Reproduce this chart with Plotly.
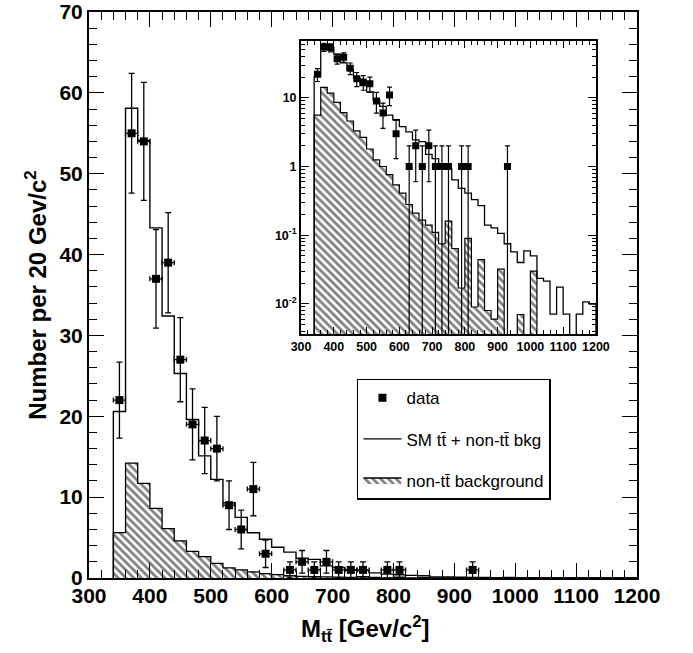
import plotly.graph_objects as go

# ---------------- data ----------------
bin_edges = list(range(340, 1201, 20))  # 43 bins of 20 GeV/c^2

sm_total = [20.6, 58.1, 54.1, 43.3, 32.4, 25.3, 19.6, 15.1, 12.2, 9.3,
            7.5, 5.6, 4.8, 3.8, 3.2, 2.45, 2.3, 1.5, 1.3, 0.95,
            0.92, 0.64, 0.48, 0.41, 0.33, 0.27, 0.14, 0.128, 0.106, 0.075,
            0.057, 0.040, 0.059, 0.050, 0.0235, 0.0214, 0.0071, 0.0175, 0.0071, 0.002,
            0.0071, 0.0107, 0.0099]

non_tt = [5.6, 14.2, 11.7, 8.6, 6.1, 4.6, 3.3, 2.65, 1.8, 1.25,
          1.0, 0.76, 0.54, 0.41, 0.28, 0.21, 0.166, 0.14, 0.11, 0.075,
          0.16, 0.064, 0.017, 0.09, 0.009, 0.044, 0.008, 0.006, 0.032, 0.0,
          0.0, 0.007, 0.0, 0.030, 0.0, 0.0, 0.0, 0.0, 0.0, 0.0,
          0.0, 0.0, 0.0]

data_x = [350, 370, 390, 410, 430, 450, 470, 490, 510, 530, 550, 570, 590,
          630, 650, 670, 690, 710, 730, 750, 790, 810, 930]
data_y = [22, 55, 54, 37, 39, 27, 19, 17, 16, 9, 6, 11, 3,
          1, 2, 1, 2, 1, 1, 1, 1, 1, 1]
data_err = [4.7, 7.4, 7.3, 6.1, 6.2, 5.2, 4.4, 4.1, 4.0, 3.0, 2.4, 3.3, 1.7,
            1.0, 1.4, 1.0, 1.4, 1.0, 1.0, 1.0, 1.0, 1.0, 1.0]
bin_half = 10

inset_xticks = [300, 400, 500, 600, 700, 800, 900, 1000, 1100, 1200]
inset_yticks = [0.01, 0.1, 1, 10]
inset_yticktext = ["10<sup>-2</sup>", "10<sup>-1</sup>", "1", "10"]

# ---------------- helpers ----------------
def step(vals, floor):
    xs = [bin_edges[0]] + bin_edges[:-1] + [bin_edges[-1], bin_edges[-1]]
    ys = [floor] + [v if v > 0 else floor for v in vals] + [vals[-1] if vals[-1] > 0 else floor, floor]
    return xs, ys

FONT = "Liberation Sans"
hatch = dict(shape="\\", fgcolor="black", bgcolor="white", size=5.5, solidity=0.5)

fig = go.Figure()

# ---- main panel ----
hx, hy = step(non_tt, 0)
fig.add_trace(go.Scatter(x=hx, y=hy, mode="lines", line=dict(shape="hv", color="black", width=1.3),
                         fill="tozeroy", fillpattern=hatch, fillcolor="white",
                         name="non-tt\u0304 background", legendgroup="c", legendrank=3,
                         xaxis="x", yaxis="y"))
sx, sy = step(sm_total, 0)
fig.add_trace(go.Scatter(x=sx, y=sy, mode="lines", line=dict(shape="hv", color="black", width=1.4),
                         name="SM tt\u0304 + non-tt\u0304 bkg", legendgroup="b", legendrank=2,
                         xaxis="x", yaxis="y"))
fig.add_trace(go.Scatter(x=data_x, y=data_y, mode="markers",
                         marker=dict(symbol="square", size=8, color="black"),
                         error_y=dict(type="data", array=data_err, color="black", thickness=1.3, width=3),
                         error_x=dict(type="constant", value=bin_half, color="black", thickness=1.3, width=2.5),
                         name="data", legendgroup="a", legendrank=1,
                         xaxis="x", yaxis="y"))

# ---- inset (log) ----
floor = 1e-5
ihx, ihy = step(non_tt, floor)
fig.add_trace(go.Scatter(x=ihx, y=ihy, mode="lines", line=dict(shape="hv", color="black", width=1.2),
                         fill="tozeroy", fillpattern=hatch, fillcolor="white",
                         showlegend=False, xaxis="x2", yaxis="y2"))
isx, isy = step(sm_total, floor)
fig.add_trace(go.Scatter(x=isx, y=isy, mode="lines", line=dict(shape="hv", color="black", width=1.3),
                         showlegend=False, xaxis="x2", yaxis="y2"))
fig.add_trace(go.Scatter(x=data_x, y=data_y, mode="markers",
                         marker=dict(symbol="square", size=7, color="black"),
                         error_y=dict(type="data", array=data_err, color="black", thickness=1.2, width=2.5),
                         showlegend=False, xaxis="x2", yaxis="y2"))

tickfont_main = dict(family=FONT, size=21, color="black", weight="bold")
tickfont_in = dict(family=FONT, size=12.5, color="black", weight="bold")

minor_log = [m * 10.0 ** e for e in range(-3, 2) for m in range(2, 10)]

fig.update_layout(
    width=693, height=653,
    margin=dict(l=89, r=56, t=12, b=75, autoexpand=False),
    paper_bgcolor="white", plot_bgcolor="white",
    showlegend=True,
    xaxis=dict(domain=[0, 1], range=[300, 1200], dtick=100, tick0=300, automargin=False,
               ticks="inside", ticklen=15, tickwidth=1.3, tickcolor="black", ticklabelstandoff=-2,
               ticklabeloverflow="allow",
               minor=dict(dtick=20, ticks="inside", ticklen=8, tickwidth=1, tickcolor="black"),
               showline=True, linewidth=2, linecolor="black", mirror="allticks",
               showgrid=False, zeroline=False, tickfont=tickfont_main),
    yaxis=dict(domain=[0, 1], range=[0, 70], dtick=10, automargin=False,
               ticks="inside", ticklen=15, tickwidth=1.3, tickcolor="black",
               ticklabeloverflow="allow",
               minor=dict(dtick=2, ticks="inside", ticklen=8, tickwidth=1, tickcolor="black"),
               showline=True, linewidth=2, linecolor="black", mirror="allticks",
               showgrid=False, zeroline=False, tickfont=tickfont_main),
    xaxis2=dict(domain=[0.387, 0.925], anchor="y2", range=[300, 1200], automargin=False,
                tickvals=inset_xticks,
                ticks="inside", ticklen=7, tickwidth=1, tickcolor="black",
                minor=dict(dtick=20, ticks="inside", ticklen=4, tickwidth=1, tickcolor="black"),
                showline=True, linewidth=2, linecolor="black", mirror="allticks",
                showgrid=False, zeroline=False, tickfont=tickfont_in),
    yaxis2=dict(domain=[0.431, 0.949], anchor="x2", type="log", range=[-2.44, 1.83], automargin=False,
                tickvals=inset_yticks, ticktext=inset_yticktext,
                ticks="inside", ticklen=8, tickwidth=1, tickcolor="black",
                minor=dict(tickvals=minor_log, ticks="inside", ticklen=4, tickwidth=1, tickcolor="black"),
                showline=True, linewidth=2, linecolor="black", mirror="allticks",
                showgrid=False, zeroline=False, tickfont=tickfont_in),
    legend=dict(x=0.489, y=0.352, xanchor="left", yanchor="top",
                bordercolor="black", borderwidth=1.5, bgcolor="white",
                font=dict(family=FONT, size=17, color="black"),
                tracegroupgap=16, itemwidth=38, traceorder="grouped"),
    annotations=[
        dict(text="M<sub>tt\u0304</sub> [Gev/c<sup>2</sup>]", xref="paper", yref="paper",
             x=0.504, y=-0.09, xanchor="center", yanchor="middle", showarrow=False,
             font=dict(family=FONT, size=24, color="black", weight="bold")),
        dict(text="Number per 20 Gev/c<sup>2</sup>", xref="paper", yref="paper",
             x=-0.097, y=0.5, xanchor="center", yanchor="middle", showarrow=False, textangle=-90,
             font=dict(family=FONT, size=24, color="black", weight="bold")),
    ],
)

fig.write_html("out.html", config={"displayModeBar": False},
               post_script="document.body.style.margin='0';document.body.style.padding='0';"
                           "document.documentElement.style.overflow='hidden';")
